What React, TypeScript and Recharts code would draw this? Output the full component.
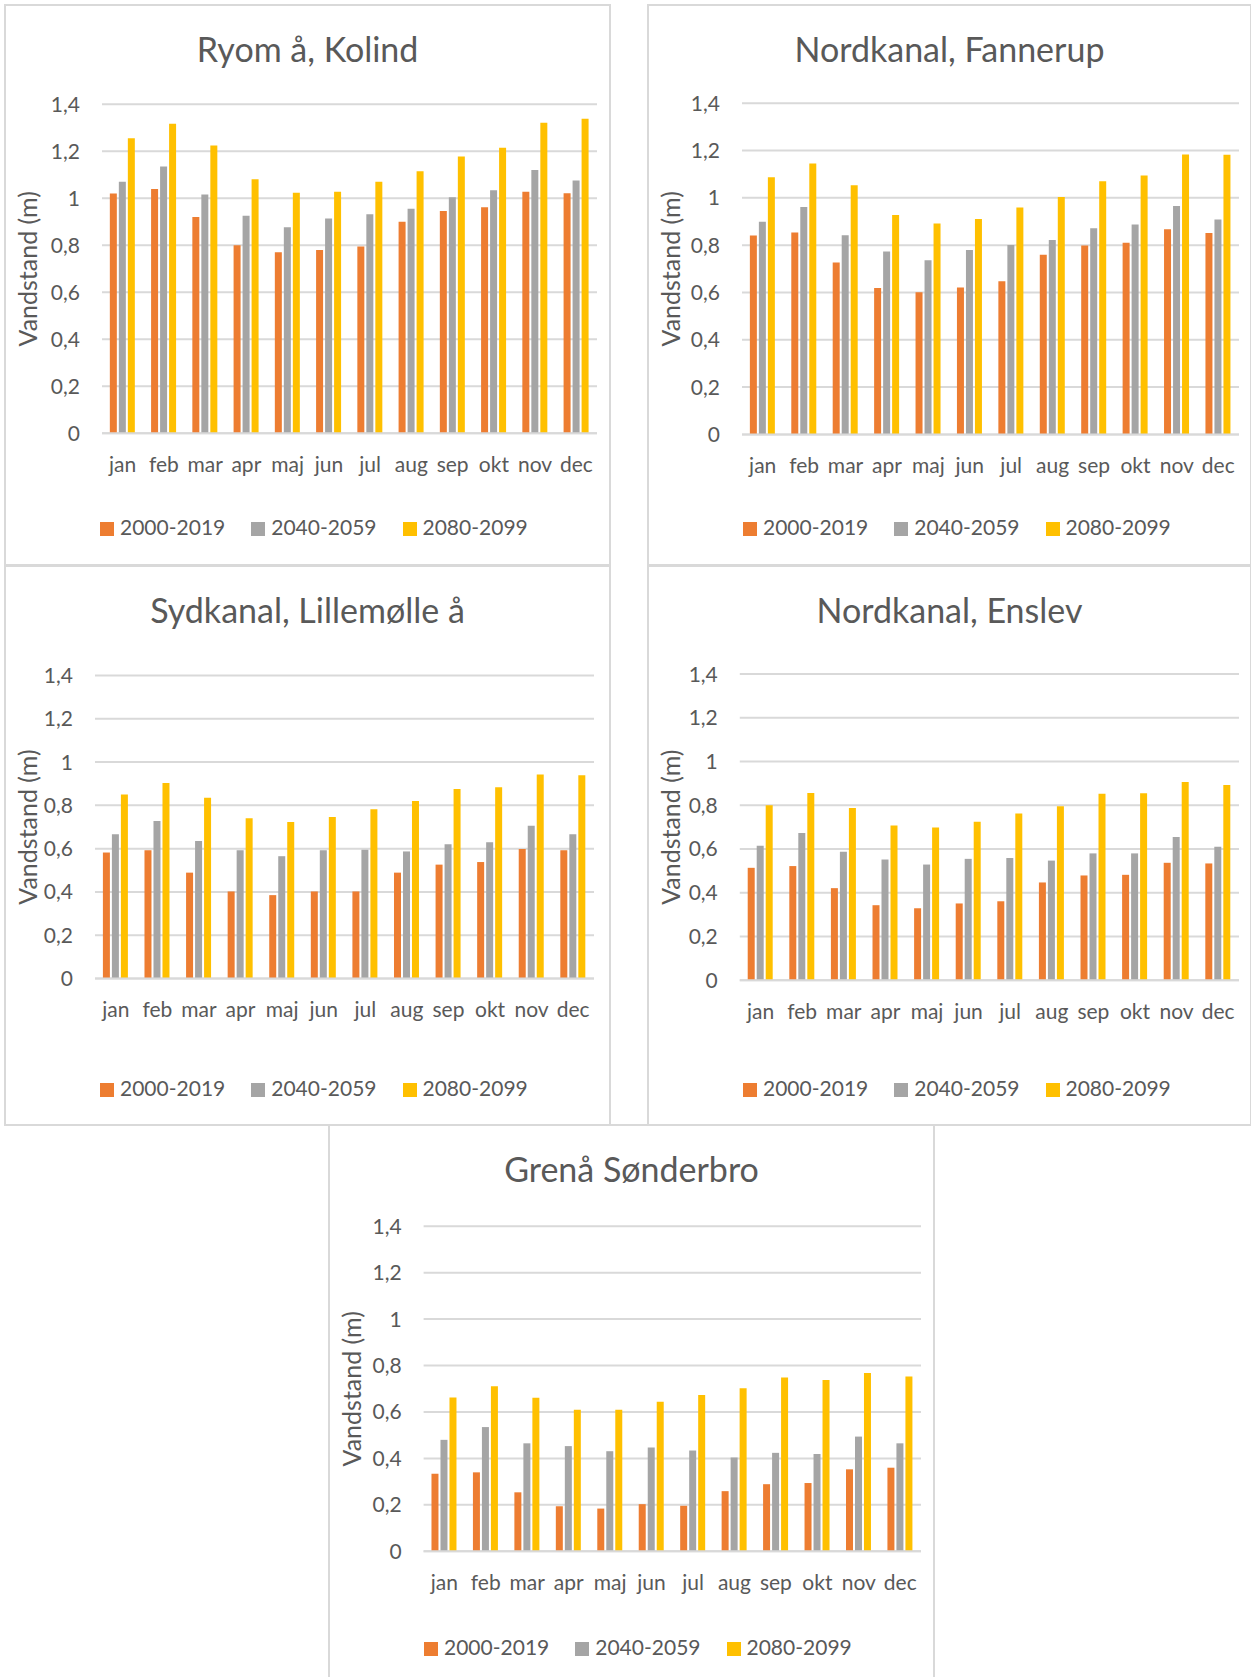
import React from "react";
import { BarChart, Bar, XAxis, YAxis, CartesianGrid, Legend } from "recharts";

const months = ["jan", "feb", "mar", "apr", "maj", "jun", "jul", "aug", "sep", "okt", "nov", "dec"];
const periods = ["2000-2019", "2040-2059", "2080-2099"];
const periodColors = ["#ED7D31", "#A5A5A5", "#FFC000"];
const yTicks = [0, 0.2, 0.4, 0.6, 0.8, 1, 1.2, 1.4];

// Ryom å, Kolind
const ryom2000 = [1.02, 1.04, 0.92, 0.8, 0.77, 0.78, 0.795, 0.9, 0.946, 0.962, 1.028, 1.022];
const ryom2040 = [1.07, 1.135, 1.016, 0.926, 0.877, 0.914, 0.932, 0.956, 1.005, 1.034, 1.12, 1.076];
const ryom2080 = [1.256, 1.317, 1.225, 1.081, 1.024, 1.028, 1.07, 1.115, 1.178, 1.215, 1.321, 1.339];

// Nordkanal, Fannerup
const fannerup2000 = [0.841, 0.853, 0.727, 0.619, 0.601, 0.621, 0.647, 0.759, 0.799, 0.81, 0.867, 0.851];
const fannerup2040 = [0.899, 0.961, 0.842, 0.773, 0.736, 0.779, 0.801, 0.822, 0.871, 0.887, 0.965, 0.908];
const fannerup2080 = [1.087, 1.145, 1.053, 0.927, 0.891, 0.911, 0.959, 1.004, 1.07, 1.094, 1.183, 1.182];

// Sydkanal, Lillemølle å
const lillemolle2000 = [0.582, 0.593, 0.489, 0.402, 0.385, 0.402, 0.402, 0.489, 0.526, 0.538, 0.598, 0.593];
const lillemolle2040 = [0.666, 0.728, 0.635, 0.592, 0.565, 0.593, 0.595, 0.587, 0.62, 0.63, 0.706, 0.666];
const lillemolle2080 = [0.85, 0.904, 0.835, 0.741, 0.723, 0.746, 0.782, 0.82, 0.876, 0.884, 0.943, 0.939];

// Nordkanal, Enslev
const enslev2000 = [0.514, 0.522, 0.421, 0.343, 0.329, 0.351, 0.361, 0.447, 0.479, 0.482, 0.537, 0.534];
const enslev2040 = [0.615, 0.673, 0.588, 0.552, 0.529, 0.555, 0.559, 0.547, 0.58, 0.58, 0.655, 0.61];
const enslev2080 = [0.8, 0.856, 0.788, 0.708, 0.698, 0.725, 0.763, 0.796, 0.853, 0.855, 0.906, 0.893];

// Grenå Sønderbro
const grenaa2000 = [0.334, 0.34, 0.254, 0.194, 0.184, 0.203, 0.196, 0.259, 0.289, 0.294, 0.353, 0.36];
const grenaa2040 = [0.48, 0.535, 0.465, 0.453, 0.431, 0.447, 0.434, 0.404, 0.424, 0.419, 0.494, 0.465];
const grenaa2080 = [0.662, 0.711, 0.661, 0.61, 0.61, 0.644, 0.673, 0.702, 0.748, 0.738, 0.768, 0.753];

const TEXT = "#595959";
const GRID = "#D9D9D9";

const fmt = (v: number) => String(Number(v.toFixed(1))).replace(".", ",");

type PanelProps = {
  title: string;
  x: number;
  y: number;
  w: number;
  h: number;
  plot: { l: number; r: number; t: number; b: number };
  series: number[][];
};

function Panel({ title, x, y, w, h, plot, series }: PanelProps) {
  const data = months.map((m, i) => ({
    month: m,
    s0: series[0][i],
    s1: series[1][i],
    s2: series[2][i],
  }));
  const xAxisH = 30;

  return (
    <div
      style={{
        position: "absolute",
        left: x,
        top: y,
        width: w,
        height: h,
        outline: `2px solid ${GRID}`,
        outlineOffset: -1,
        background: "#fff",
      }}
    >
      <svg style={{ position: "absolute", left: 0, top: 0 }} width={w} height={80}>
        <text x={w / 2} y={57} textAnchor="middle" fontSize={34} fill={TEXT}>
          {title}
        </text>
      </svg>
      <BarChart
        width={w}
        height={h}
        data={data}
        margin={{ top: plot.t, right: w - plot.r, left: 0, bottom: h - plot.b - xAxisH }}
        barCategoryGap="19%"
        barGap={2}
      >
        <CartesianGrid vertical={false} stroke={GRID} strokeWidth={2} />
        <XAxis
          dataKey="month"
          height={xAxisH}
          interval={0}
          tickLine={false}
          tickSize={0}
          tickMargin={23.6}
          axisLine={{ stroke: GRID, strokeWidth: 2 }}
          tick={{ fill: TEXT, fontSize: 21 }}
        />
        <YAxis
          width={plot.l}
          domain={[0, 1.4]}
          ticks={yTicks}
          interval={0}
          axisLine={false}
          tickLine={false}
          tickSize={0}
          tickMargin={22}
          tickFormatter={fmt}
          tick={{ fill: TEXT, fontSize: 21 }}
          label={{
            value: "Vandstand (m)",
            angle: -90,
            position: "insideLeft",
            offset: 23,
            style: { textAnchor: "middle", fill: TEXT, fontSize: 25 },
          }}
        />
        <Legend
          verticalAlign="middle"
          align="center"
          iconType="square"
          iconSize={14}
          wrapperStyle={{ top: 508.5, left: 95, width: "auto", fontSize: 21 }}
          formatter={(value) => (
            <span style={{ color: TEXT, marginLeft: 2, marginRight: 16 }}>{value}</span>
          )}
        />
        {periods.map((p, i) => (
          <Bar key={p} dataKey={`s${i}`} name={p} fill={periodColors[i]} isAnimationActive={false} />
        ))}
      </BarChart>
    </div>
  );
}

export default function App() {
  return (
    <div
      style={{
        position: "absolute",
        left: 0,
        top: 0,
        width: 1251,
        height: 1677,
        overflow: "hidden",
        background: "#fff",
        fontFamily: "Lato, 'Open Sans', sans-serif",
      }}
    >
      <Panel
        title="Ryom å, Kolind"
        x={5}
        y={5}
        w={605}
        h={560}
        plot={{ l: 97, r: 592, t: 99.3, b: 428.3 }}
        series={[ryom2000, ryom2040, ryom2080]}
      />
      <Panel
        title="Nordkanal, Fannerup"
        x={648}
        y={5}
        w={603}
        h={560}
        plot={{ l: 94, r: 591, t: 98.2, b: 429.4 }}
        series={[fannerup2000, fannerup2040, fannerup2080]}
      />
      <Panel
        title="Sydkanal, Lillemølle å"
        x={5}
        y={566}
        w={605}
        h={559}
        plot={{ l: 90, r: 589, t: 109.6, b: 412.4 }}
        series={[lillemolle2000, lillemolle2040, lillemolle2080]}
      />
      <Panel
        title="Nordkanal, Enslev"
        x={648}
        y={566}
        w={603}
        h={559}
        plot={{ l: 91.8, r: 591, t: 108.1, b: 414.2 }}
        series={[enslev2000, enslev2040, enslev2080]}
      />
      <Panel
        title="Grenå Sønderbro"
        x={329}
        y={1125}
        w={605}
        h={560}
        plot={{ l: 94.6, r: 592, t: 101.2, b: 426.3 }}
        series={[grenaa2000, grenaa2040, grenaa2080]}
      />
    </div>
  );
}
